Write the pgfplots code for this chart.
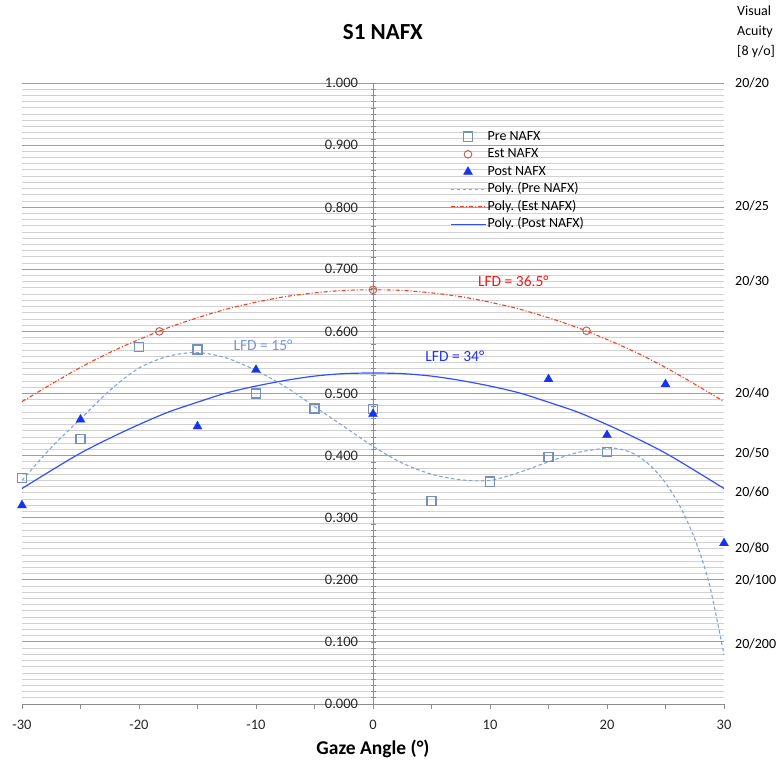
\documentclass[border=0pt]{standalone}
\usepackage{pgfplots}
\pgfplotsset{compat=1.18}
\usepackage{fontspec}
\setmainfont{Carlito}
\definecolor{preM}{RGB}{118,144,190}
\definecolor{preL}{RGB}{135,162,214}
\definecolor{estM}{RGB}{192,100,90}
\definecolor{estL}{RGB}{255,60,30}
\definecolor{postM}{RGB}{22,52,240}
\definecolor{postL}{RGB}{50,80,255}
\definecolor{lfdPre}{RGB}{120,150,220}
\definecolor{lfdEst}{RGB}{240,25,25}
\definecolor{lfdPost}{RGB}{30,50,255}
\pgfplotsset{mylegend/.style={legend image code/.code={\draw[mark repeat=2,mark phase=2,##1] plot coordinates {(0pt,0pt) (17.5pt,0pt) (35pt,0pt)};}}}
\tikzset{va/.style={anchor=west, inner sep=0pt, xshift=11pt, font=\fontsize{14}{16}\selectfont}}
\begin{document}
\frenchspacing
\begin{tikzpicture}
\path[use as bounding box] (-22pt,-59pt) rectangle (760pt,704pt);
\begin{axis}[
  at={(0pt,0pt)}, anchor=south west,
  scale only axis, width=702pt, height=621pt,
  xmin=-30, xmax=30, ymin=0, ymax=1,
  axis x line=bottom, axis y line=middle,
  axis line style={-, draw=black!45, line width=0.8pt},
  hide obscured x ticks=false, hide obscured y ticks=false,
  xtick={-30,-20,...,30}, minor xtick={-25,-15,...,25},
  ytick={0,0.1,0.2,0.3,0.4,0.5,0.6,0.7,0.8,0.9,1.0}, minor y tick num=9,
  tick align=center, major tick length=5pt, minor tick length=5pt,
  tick style={draw=black!45, line width=0.6pt},
  every x tick/.append style={yshift=-2.5pt},
  ymajorgrids, yminorgrids,
  major grid style={draw=black!38, line width=0.9pt},
  minor grid style={draw=black!18, line width=0.9pt},
  /pgf/number format/assume math mode=true,
  tick label style={font=\fontsize{14.5}{16}\selectfont, text=black!85},
  yticklabel style={anchor=east, xshift=-9pt},
  y tick label style={/pgf/number format/.cd, fixed, fixed zerofill, precision=3},
  xticklabel style={yshift=-10pt},
  title={S1 NAFX},
  title style={at={(axis description cs:0.514,1.0596)}, anchor=base, font=\bfseries\fontsize{23}{26}\selectfont},
  xlabel={Gaze Angle (°)},
  xlabel style={at={(axis description cs:0.5,-0.0821)}, anchor=base, font=\bfseries\fontsize{19.5}{22}\selectfont},
  legend style={at={(axis cs:6.3,0.931)}, anchor=north west, draw=none, fill=none,
    font=\fontsize{14}{16}\selectfont, row sep=0pt,
    nodes={inner sep=1.5pt, text height=10.6pt, text depth=3.9pt, text=black}},
  legend cell align=left,
  clip=false,
]
\addplot[only marks, mark=square, mark size=4.6pt, draw=preM, line width=1.4pt, mylegend] coordinates {
(-30,0.364) (-25,0.427) (-20,0.575) (-15,0.571) (-10,0.500) (-5,0.476) (0,0.475) (5,0.327) (10,0.358) (15,0.398) (20,0.406)};
\addlegendentry{Pre NAFX}
\addplot[only marks, mark=o, mark size=3.8pt, draw=estM, line width=1pt, mylegend] coordinates {
(-18.25,0.600) (0,0.667) (18.25,0.601)};
\addlegendentry{Est NAFX}
\addplot[only marks, mark=triangle*, mark size=5.2pt, draw=postM, fill=postM, line width=0.3pt, mylegend] coordinates {
(-30,0.320) (-25,0.458) (-15,0.447) (-10,0.538) (0,0.467) (15,0.523) (20,0.433) (25,0.515) (30,0.259)};
\addlegendentry{Post NAFX}
\addplot[color=preL, line width=1.1pt, dash pattern=on 3.5pt off 2.5pt, smooth, mark=none, legend image code/.code={\draw[draw=preL, draw opacity=1, line width=1.1pt, dash pattern=on 3.5pt off 2.5pt] (0pt,0pt) -- (35pt,0pt);}] coordinates {
(-30,0.360) (-27.5,0.413) (-25,0.459) (-22.5,0.505) (-20,0.541) (-17.5,0.560) (-15,0.566) (-12.5,0.557) (-10,0.537) (-7.5,0.511) (-5,0.479) (-2.5,0.447) (0,0.415) (2.5,0.388) (5,0.370) (7.5,0.361) (10,0.360) (12.5,0.373) (15,0.390) (17.5,0.405) (20,0.412) (21.25,0.410) (22.5,0.401) (23.75,0.383) (25,0.356) (26.25,0.318) (27.5,0.266) (28.75,0.193) (30,0.079)};
\addlegendentry{Poly. (Pre NAFX)}
\addplot[color=estL, line width=1.1pt, dash pattern=on 4pt off 2pt on 1pt off 2pt, smooth, mark=none, legend image code/.code={\draw[draw=estL, draw opacity=1, line width=1.1pt, dash pattern=on 4pt off 2pt on 1pt off 2pt] (0pt,0pt) -- (35pt,0pt);}] coordinates {
(-30,0.487) (-27.5,0.515) (-25,0.542) (-22.5,0.566) (-20,0.587) (-17.5,0.606) (-15,0.622) (-12.5,0.636) (-10,0.647) (-7.5,0.656) (-5,0.662) (-2.5,0.666) (0,0.667) (2.5,0.666) (5,0.662) (7.5,0.656) (10,0.647) (12.5,0.636) (15,0.622) (17.5,0.606) (20,0.587) (22.5,0.566) (25,0.542) (27.5,0.515) (30,0.487)};
\addlegendentry{Poly. (Est NAFX)}
\addplot[color=postL, line width=1.2pt, smooth, mark=none, legend image code/.code={\draw[draw=postL, draw opacity=1, line width=1.2pt, solid] (0pt,0pt) -- (35pt,0pt);}] coordinates {
(-30,0.347) (-27.5,0.376) (-25,0.404) (-22.5,0.428) (-20,0.450) (-17.5,0.470) (-15,0.486) (-12.5,0.501) (-10,0.512) (-7.5,0.521) (-5,0.528) (-2.5,0.532) (0,0.533) (2.5,0.532) (5,0.528) (7.5,0.521) (10,0.512) (12.5,0.501) (15,0.486) (17.5,0.470) (20,0.450) (22.5,0.428) (25,0.404) (27.5,0.376) (30,0.347)};
\addlegendentry{Poly. (Post NAFX)}
\node[text=lfdPre, font=\fontsize{15.5}{18}\selectfont] at (axis cs:-9.4,0.578) {LFD = 15°};
\node[text=lfdEst, font=\fontsize{15.5}{18}\selectfont] at (axis cs:12.0,0.680) {LFD = 36.5°};
\node[text=lfdPost, font=\fontsize{15.5}{18}\selectfont] at (axis cs:7.0,0.560) {LFD = 34°};
\node[va] at (axis cs:30,1.0) {20/20};
\node[va] at (axis cs:30,0.802) {20/25};
\node[va] at (axis cs:30,0.681) {20/30};
\node[va] at (axis cs:30,0.501) {20/40};
\node[va] at (axis cs:30,0.405) {20/50};
\node[va] at (axis cs:30,0.341) {20/60};
\node[va] at (axis cs:30,0.252) {20/80};
\node[va] at (axis cs:30,0.200) {20/100};
\node[va] at (axis cs:30,0.0966) {20/200};
\node[anchor=base west, inner sep=0pt, font=\fontsize{14}{16}\selectfont] at (rel axis cs:1,1) [xshift=13pt, yshift=67.5pt] {Visual};
\node[anchor=base west, inner sep=0pt, font=\fontsize{14}{16}\selectfont] at (rel axis cs:1,1) [xshift=13pt, yshift=47.5pt] {Acuity};
\node[anchor=base west, inner sep=0pt, font=\fontsize{14}{16}\selectfont] at (rel axis cs:1,1) [xshift=13pt, yshift=27.5pt] {[8 y/o]};
\end{axis}
\end{tikzpicture}
\end{document}
